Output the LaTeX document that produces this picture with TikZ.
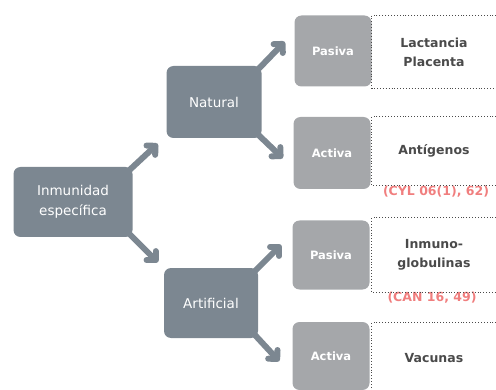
\documentclass[tikz,border=0pt]{standalone}
\usepackage{fontspec}
\setmainfont{DejaVu Sans}
\usepackage{tikz}
\usetikzlibrary{arrows.meta, calc}
\definecolor{darkbox}{HTML}{7C8791}
\definecolor{lightbox}{HTML}{A5A7AA}
\definecolor{txtgray}{HTML}{4A4A4A}
\definecolor{refred}{HTML}{F07E7E}

\begin{document}
\begin{tikzpicture}[x=1pt, y=1pt,
    darkbox/.style={fill=darkbox, rounded corners=7pt, text=white, align=center, font=\fontsize{13.5}{20}\selectfont},
    lightbox/.style={fill=lightbox, rounded corners=7pt, text=white, font=\fontsize{11.5}{13}\selectfont\bfseries, minimum width=77pt},
    bracket/.style={minimum width=124pt, align=center, text=txtgray, font=\fontsize{12.5}{19}\selectfont\bfseries},
    dotbr/.style={draw=txtgray, line width=0.9pt, dotted},
    arr/.style={draw=darkbox, line width=6pt, line cap=round, line join=round, -{Straight Barb[angle=90:9pt, round]}},
    ref/.style={text=refred, font=\fontsize{12.5}{14}\selectfont\bfseries}]
    \useasboundingbox (0,0) rectangle (496,389);
                \node[darkbox, minimum width=119pt, minimum height=70pt] (root) at (73,187) {Inmunidad\\específica};
                \node[darkbox, minimum width=95pt, minimum height=72pt] (nat) at (214,287) {Natural};
                \node[darkbox, minimum width=94pt, minimum height=70pt] (art) at (211,86) {Artificial};
                \node[lightbox, minimum height=71pt] (pas1) at (333,338) {Pasiva};
                \node[lightbox, minimum height=72pt] (act1) at (332,236) {Activa};
                \node[lightbox, minimum height=69pt] (pas2) at (331,134) {Pasiva};
                \node[lightbox, minimum height=68pt] (act2) at (331,33) {Activa};
                \node[bracket, minimum height=73pt] (b1) at (434,337) {Lactancia\\Placenta};
                \node[bracket, minimum height=68pt] (b2) at (434,238) {Antígenos};
                \node[bracket, minimum height=74pt] (b3) at (434,134) {Inmuno-\\globulinas};
                \node[bracket, minimum height=70pt] (b4) at (434,31) {Vacunas};
                \node[ref] (r1) at (436,197) {(CYL 06(1), 62)};
                \node[ref] (r2) at (432,91) {(CAN 16, 49)};
                % dotted brackets, open on the right
                \foreach \b in {b1,b2,b3,b4}
                    \draw[dotbr] (\b.north east) -- (\b.north west) -- (\b.south west) -- (\b.south east);
                % arrow ends
                \coordinate (e1) at ($(root.north east)+(25,23)$);
                \coordinate (e2) at ($(root.south east)+(25,-25)$);
                \coordinate (e3) at ($(nat.north east)+(23,24)$);
                \coordinate (e4) at ($(nat.south east)+(21,-20)$);
                \coordinate (e5) at ($(art.north east)+(23,23)$);
                \coordinate (e6) at ($(art.south east)+(21,-23)$);
                \draw[arr] ($(root.north east)+(-4,-4)$) -- (e1);
                \draw[arr] ($(root.south east)+(-4,4)$) -- (e2);
                \draw[arr] ($(nat.north east)+(-4,-4)$) -- (e3);
                \draw[arr] ($(nat.south east)+(-4,4)$) -- (e4);
                \draw[arr] ($(art.north east)+(-4,-4)$) -- (e5);
                \draw[arr] ($(art.south east)+(-4,4)$) -- (e6);
            \end{tikzpicture}
\end{document}
